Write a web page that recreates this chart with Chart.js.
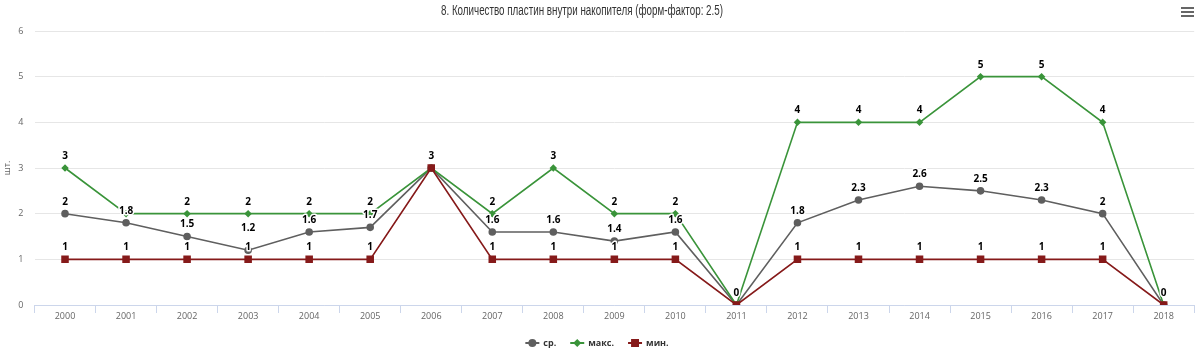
<!DOCTYPE html>
<html>
<head>
<meta charset="utf-8">
<script src="https://cdn.jsdelivr.net/npm/chart.js@4.4.0/dist/chart.umd.min.js"></script>
<style>
  html, body { margin: 0; padding: 0; background: #fff; }
  #wrap { position: relative; width: 1200px; height: 351px; }
  #menu { position: absolute; left: 1181px; top: 7px; width: 13px; }
  #menu span { display: block; height: 2px; background: #666; margin-bottom: 2px; }
</style>
</head>
<body>
<div id="wrap">
  <canvas id="chart" width="1200" height="351"></canvas>
  <div id="menu"><span></span><span></span><span></span></div>
</div>
<script>
// Chart data
const years = ["2000", "2001", "2002", "2003", "2004", "2005", "2006", "2007", "2008", "2009",
               "2010", "2011", "2012", "2013", "2014", "2015", "2016", "2017", "2018"];
const avgValues = [2, 1.8, 1.5, 1.2, 1.6, 1.7, 3, 1.6, 1.6, 1.4, 1.6, 0, 1.8, 2.3, 2.6, 2.5, 2.3, 2, 0];
const maxValues = [3, 2, 2, 2, 2, 2, 3, 2, 3, 2, 2, 0, 4, 4, 4, 5, 5, 4, 0];
const minValues = [1, 1, 1, 1, 1, 1, 3, 1, 1, 1, 1, 0, 1, 1, 1, 1, 1, 1, 0];
const seriesNames = ["ср.", "макс.", "мин."];
const titleText = "8. Количество пластин внутри накопителя (форм-фактор: 2.5)";
const yTicks = [0, 1, 2, 3, 4, 5, 6];

const colors = ["#5f5f5f", "#3a943a", "#861a1a"];
const tickFont = { family: "'Open Sans', sans-serif", size: 9 };

// Title + legend drawn by hand (Highcharts look)
const decorations = {
    id: "decorations",
    afterDraw(chart) {
        const ctx = chart.ctx;
        ctx.save();
        ctx.fillStyle = "#333";
        ctx.font = "14px 'Liberation Sans', sans-serif";
        ctx.textAlign = "center";
        ctx.textBaseline = "middle";
        // squeeze the title to look like a condensed face
        const tw = ctx.measureText(titleText).width;
        const sx = 282 / tw;
        ctx.save();
        ctx.translate(582, 11);
        ctx.scale(sx, 1);
        ctx.fillText(titleText, 0, 0);
        ctx.restore();

        // legend
        ctx.font = "bold 9px 'Open Sans', sans-serif";
        ctx.textAlign = "left";
        const symW = 14, gap = 4, spacing = 14;
        const widths = seriesNames.map(n => symW + gap + ctx.measureText(n).width);
        const total = widths.reduce((a, b) => a + b, 0) + spacing * (widths.length - 1);
        let x = 597 - total / 2;
        const y = 343;
        chart.data.datasets.forEach((ds, i) => {
            ctx.strokeStyle = ds.borderColor;
            ctx.lineWidth = 2;
            ctx.beginPath();
            ctx.moveTo(x, y);
            ctx.lineTo(x + symW, y);
            ctx.stroke();
            ctx.fillStyle = ds.backgroundColor;
            Chart.helpers.drawPoint(ctx, {
                pointStyle: ds.pointStyle,
                radius: ds.pointRadius,
                rotation: 0,
                borderWidth: 1
            }, x + symW / 2, y);
            ctx.fillStyle = "#333";
            ctx.fillText(seriesNames[i], x + symW + gap, y + 0.5);
            x += widths[i] + spacing;
        });
        ctx.restore();
    }
};

// Data labels with simple overlap handling
const dataLabels = {
    id: "dataLabels",
    afterDatasetsDraw(chart) {
        const ctx = chart.ctx;
        ctx.save();
        ctx.font = "bold 10px 'Open Sans', sans-serif";
        ctx.textAlign = "center";
        ctx.textBaseline = "middle";
        const h = 11;
        for (let i = 0; i < years.length; i++) {
            const placed = [];
            chart.data.datasets.forEach((ds, d) => {
                const pt = chart.getDatasetMeta(d).data[i];
                const text = String(ds.data[i]);
                const w = ctx.measureText(text).width + 4;
                const lbl = { x: pt.x, y: pt.y - 12, w: w, text: text, series: d };
                let hide = false;
                for (const p of placed) {
                    if (Math.abs(p.y - lbl.y) < h && Math.abs(p.x - lbl.x) < (p.w + lbl.w) / 2) {
                        if (p.text === lbl.text) { hide = true; break; }
                        if (p.series === 0 && p.y < lbl.y) {
                            // push the average label upward
                            p.y = lbl.y - 19;
                        } else {
                            hide = true;
                        }
                    }
                }
                if (!hide) placed.push(lbl);
            });
            placed.forEach(p => {
                ctx.lineWidth = 3;
                ctx.strokeStyle = "#fff";
                ctx.lineJoin = "round";
                ctx.strokeText(p.text, p.x, p.y);
                ctx.fillStyle = "#000";
                ctx.fillText(p.text, p.x, p.y);
            });
        }
        ctx.restore();
    }
};

const chartCanvas = document.getElementById("chart").getContext("2d");

let myChart = new Chart(chartCanvas, {
    type: "line",
    data: {
        labels: years,
        datasets: [
            {
                label: seriesNames[0],
                data: avgValues,
                borderColor: colors[0],
                backgroundColor: colors[0],
                pointStyle: "circle",
                pointRadius: 3,
                borderWidth: 1.6,
                order: 2
            },
            {
                label: seriesNames[1],
                data: maxValues,
                borderColor: colors[1],
                backgroundColor: colors[1],
                pointStyle: "rectRot",
                pointRadius: 2.6,
                borderWidth: 1.6,
                order: 1
            },
            {
                label: seriesNames[2],
                data: minValues,
                borderColor: colors[2],
                backgroundColor: colors[2],
                pointStyle: "rect",
                pointRadius: 4.2,
                borderWidth: 1.6,
                order: 0
            }
        ]
    },
    options: {
        responsive: false,
        animation: false,
        devicePixelRatio: 1,
        layout: { padding: { top: 31, bottom: 26, left: 0, right: 4.5 } },
        elements: {
            line: { tension: 0 },
            point: { borderWidth: 1, hoverRadius: 4 }
        },
        plugins: {
            legend: { display: false },
            title: { display: false },
            tooltip: { enabled: false }
        },
        scales: {
            x: {
                type: "category",
                offset: true,
                grid: {
                    offset: true,
                    drawOnChartArea: false,
                    drawTicks: true,
                    tickLength: 8,
                    color: "#ccd6eb"
                },
                border: { color: "#ccd6eb" },
                ticks: { color: "#666", font: tickFont, padding: -2, maxRotation: 0 },
                afterFit(scale) { scale.height = 20; }
            },
            y: {
                min: 0,
                max: 6,
                afterBuildTicks(scale) { scale.ticks = yTicks.map(v => ({ value: v })); },
                grid: { color: "#e6e6e6", drawTicks: false },
                border: { display: false },
                ticks: { color: "#666", font: tickFont, padding: 11 },
                title: {
                    display: true,
                    text: "шт.",
                    color: "#666",
                    font: tickFont,
                    padding: { top: 2, bottom: 0 }
                },
                afterFit(scale) { scale.width = 34.5; }
            }
        }
    },
    plugins: [dataLabels, decorations]
});
</script>
</body>
</html>
